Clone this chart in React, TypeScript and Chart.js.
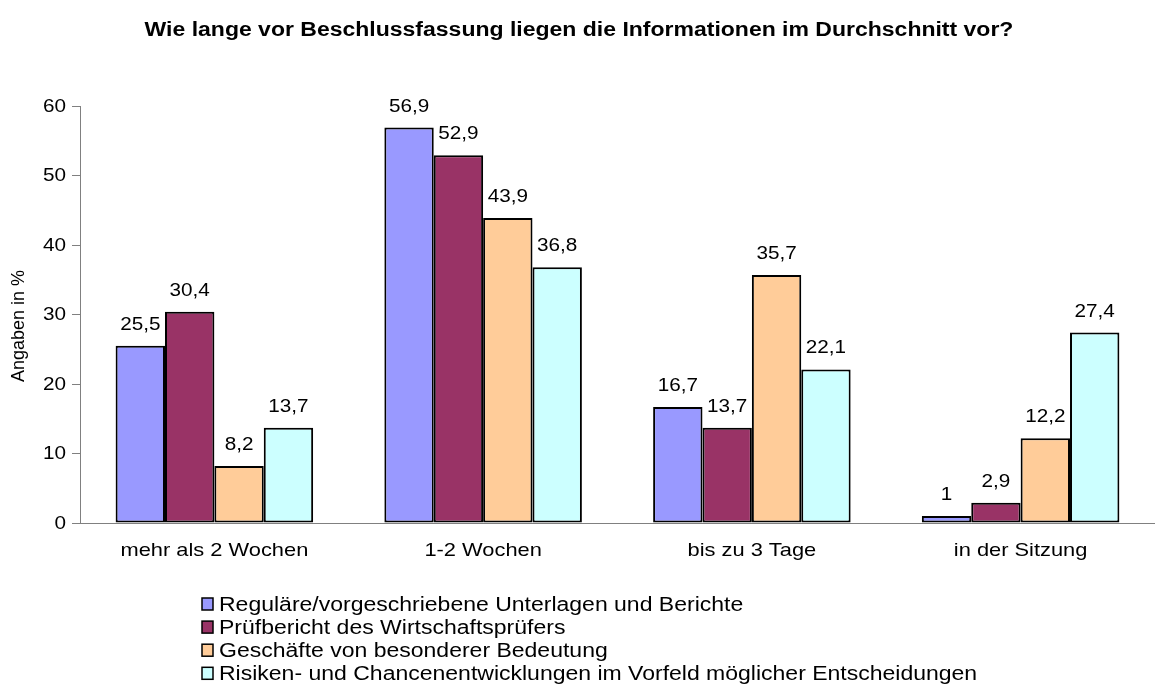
import React, { useEffect, useRef } from "react";
import { Chart, registerables } from "chart.js";

Chart.register(...registerables);

const TITLE = "Wie lange vor Beschlussfassung liegen die Informationen im Durchschnitt vor?";
const Y_TITLE = "Angaben in %";
const categories = ["mehr als 2 Wochen", "1-2 Wochen", "bis zu 3 Tage", "in der Sitzung"];
const seriesNames = [
  "Reguläre/vorgeschriebene Unterlagen und Berichte",
  "Prüfbericht des Wirtschaftsprüfers",
  "Geschäfte von besonderer Bedeutung",
  "Risiken- und Chancenentwicklungen im Vorfeld möglicher Entscheidungen",
];
const regulaer = [25.5, 56.9, 16.7, 1];
const pruefbericht = [30.4, 52.9, 13.7, 2.9];
const geschaefte = [8.2, 43.9, 35.7, 12.2];
const risiken = [13.7, 36.8, 22.1, 27.4];
const colors = ["#9999FF", "#993366", "#FFCC99", "#CCFFFF"];
const yTicks = [0, 10, 20, 30, 40, 50, 60];

const FONT = "'Liberation Sans', Arial, sans-serif";
const SX = 1.15;

function sText(ctx: CanvasRenderingContext2D, text: string, x: number, y: number, align: CanvasTextAlign, sx = SX) {
  ctx.save();
  ctx.translate(x, y);
  ctx.scale(sx, 1);
  ctx.textAlign = align;
  ctx.fillText(text, 0, 0);
  ctx.restore();
}

const overlayPlugin = {
  id: "overlay",
  afterDatasetsDraw(chart: any) {
    const ctx: CanvasRenderingContext2D = chart.ctx;
    ctx.save();
    ctx.fillStyle = "#000";
    // data labels
    ctx.font = `18px ${FONT}`;
    ctx.textBaseline = "alphabetic";
    chart.data.datasets.forEach((ds: any, di: number) => {
      const meta = chart.getDatasetMeta(di);
      meta.data.forEach((bar: any, i: number) => {
        const v = ds.data[i];
        sText(ctx, String(v).replace(".", ","), bar.x, bar.y - 16, "center");
      });
    });
    // y tick labels
    const ys = chart.scales.y;
    ctx.textBaseline = "middle";
    yTicks.forEach((v) => {
      sText(ctx, String(v), 66, ys.getPixelForValue(v) + 1, "right");
    });
    // category labels
    const xs = chart.scales.x;
    ctx.font = `19px ${FONT}`;
    categories.forEach((c, i) => {
      sText(ctx, c, xs.getPixelForValue(i), 551, "center");
    });
    // y title
    ctx.save();
    ctx.font = `18px ${FONT}`;
    ctx.translate(19, 326);
    ctx.rotate(-Math.PI / 2);
    ctx.textAlign = "center";
    ctx.fillText(Y_TITLE, 0, 0);
    ctx.restore();
    // title
    ctx.font = `bold 20px ${FONT}`;
    sText(ctx, TITLE, 579, 30, "center");
    // legend
    ctx.font = `20px ${FONT}`;
    seriesNames.forEach((name, i) => {
      const y = 604 + i * 23.1;
      ctx.fillStyle = colors[i];
      ctx.fillRect(202, y - 6, 11, 12);
      ctx.strokeStyle = "#000";
      ctx.lineWidth = 1.5;
      ctx.strokeRect(202, y - 6, 11, 12);
      ctx.fillStyle = "#000";
      sText(ctx, name, 219, y + 1, "left");
    });
    ctx.restore();
  },
};

export default function App() {
  const ref = useRef<HTMLCanvasElement | null>(null);
  useEffect(() => {
    document.body.style.margin = "0";
    const series = [regulaer, pruefbericht, geschaefte, risiken];
    const chart = new Chart(ref.current as HTMLCanvasElement, {
      type: "bar",
      data: {
        labels: categories,
        datasets: series.map((d, i) => ({
          label: seriesNames[i],
          data: d,
          backgroundColor: colors[i],
          borderColor: "#000",
          borderWidth: 2,
          borderSkipped: false,
          barPercentage: 1,
          categoryPercentage: 0.735,
        })),
      },
      options: {
        responsive: false,
        animation: false,
        events: [],
        layout: { padding: { top: 106, left: 0, right: 0, bottom: 125 } },
        plugins: {
          legend: { display: false },
          title: { display: false },
          tooltip: { enabled: false },
        },
        scales: {
          x: {
            grid: { display: false },
            border: { display: true, color: "#808080", width: 1 },
            ticks: { display: false },
            afterFit: (s: any) => { s.height = 40; },
          },
          y: {
            min: 0,
            max: 60,
            afterBuildTicks: (s: any) => { s.ticks = yTicks.map((v) => ({ value: v })); },
            grid: { drawOnChartArea: false, drawTicks: true, tickLength: 8, color: "#808080" },
            border: { display: true, color: "#808080", width: 1 },
            ticks: { display: false },
            afterFit: (s: any) => { s.width = 80; },
          },
        },
      },
      plugins: [overlayPlugin],
    });
    return () => chart.destroy();
  }, []);
  return <canvas ref={ref} width={1155} height={688} style={{ display: "block" }} />;
}
